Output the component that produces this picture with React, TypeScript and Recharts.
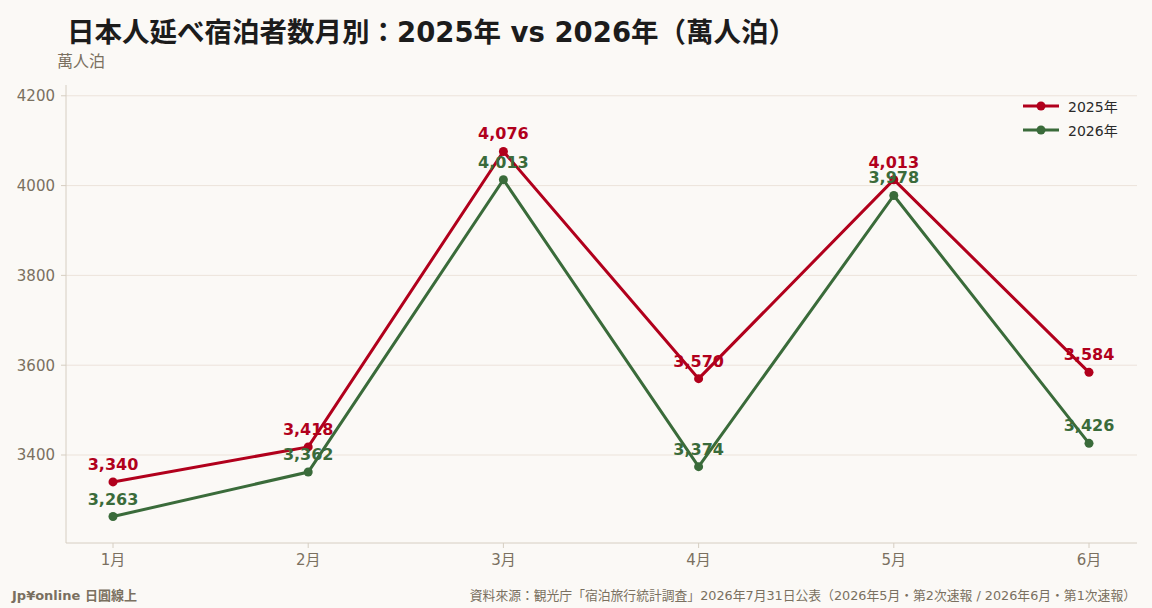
import React from 'react'
import { LineChart, Line, XAxis, YAxis, CartesianGrid, LabelList } from 'recharts'

const months = ['1月', '2月', '3月', '4月', '5月', '6月']
const values2025 = [3340, 3418, 4076, 3570, 4013, 3584]
const values2026 = [3263, 3362, 4013, 3374, 3978, 3426]
const yTicks = [3400, 3600, 3800, 4000, 4200]

const RED = '#b1001c'
const GREEN = '#3a6b3a'
const MUTED = '#7a7060'
const FONT = '"DejaVu Sans", "Noto Sans CJK JP", sans-serif'

const series = [
  { key: 'y2025', name: '2025年', color: RED },
  { key: 'y2026', name: '2026年', color: GREEN },
]

const data = months.map((m, i) => ({ month: m, y2025: values2025[i], y2026: values2026[i] }))

const fmt = (v: any) => Number(v).toLocaleString('en-US')

export default function App() {
  return (
    <div
      style={{
        position: 'fixed',
        left: 0,
        top: 0,
        width: 1152,
        height: 608,
        background: '#fbf9f6',
        fontFamily: FONT,
        overflow: 'hidden',
      }}
    >
      <div
        style={{
          position: 'absolute',
          left: 67,
          top: 10,
          fontSize: 27.5,
          fontWeight: 'bold',
          color: '#1c1c1c',
          whiteSpace: 'nowrap',
        }}
      >
        日本人延べ宿泊者数月別：2025年 vs 2026年（萬人泊）
      </div>
      <div style={{ position: 'absolute', left: 57, top: 48, fontSize: 16, color: MUTED }}>萬人泊</div>

      <LineChart
        width={1152}
        height={608}
        data={data}
        margin={{ top: 85, right: 15, left: 8, bottom: 35 }}
        style={{ fontFamily: FONT, position: 'absolute', left: 0, top: 0 }}
      >
        <CartesianGrid vertical={false} horizontalValues={yTicks} stroke="#ece3db" strokeWidth={1} />
        <XAxis
          dataKey="month"
          padding={{ left: 47, right: 48 }}
          height={30}
          tickSize={5}
          tickMargin={6}
          stroke="#d6cec2"
          tick={{ fill: MUTED, fontSize: 15 }}
        />
        <YAxis
          domain={[3204, 4224]}
          ticks={yTicks}
          allowDataOverflow
          width={58}
          tickSize={5}
          tickMargin={6}
          stroke="#d6cec2"
          tick={{ fill: MUTED, fontSize: 15 }}
        />
        {series.map((s) => (
          <Line
            key={s.key}
            dataKey={s.key}
            name={s.name}
            stroke={s.color}
            strokeWidth={3}
            dot={{ r: 4.5, fill: s.color, stroke: s.color, strokeWidth: 0 }}
            isAnimationActive={false}
          >
            <LabelList
              dataKey={s.key}
              position="top"
              offset={12}
              formatter={fmt}
              style={{ fill: s.color, fontSize: 16, fontWeight: 'bold' }}
            />
          </Line>
        ))}
      </LineChart>

      {/* legend, top right */}
      <div style={{ position: 'absolute', left: 1022, top: 94 }}>
        {series.map((s) => (
          <div key={s.key} style={{ display: 'flex', alignItems: 'center', height: 24 }}>
            <svg width={38} height={12} style={{ marginRight: 8 }}>
              <line x1={1} y1={6} x2={37} y2={6} stroke={s.color} strokeWidth={3} />
              <circle cx={19} cy={6} r={4.5} fill={s.color} />
            </svg>
            <span style={{ color: '#2a2a2a', fontSize: 14 }}>{s.name}</span>
          </div>
        ))}
      </div>

      <div
        style={{
          position: 'absolute',
          left: 12,
          top: 585,
          fontSize: 13,
          fontWeight: 'bold',
          color: MUTED,
          whiteSpace: 'nowrap',
        }}
      >
        Jp¥online 日圓線上
      </div>
      <div
        style={{
          position: 'absolute',
          right: 16,
          top: 585,
          fontSize: 12.8,
          color: MUTED,
          whiteSpace: 'nowrap',
        }}
      >
        資料來源：観光庁「宿泊旅行統計調査」2026年7月31日公表（2026年5月・第2次速報 / 2026年6月・第1次速報）
      </div>
    </div>
  )
}
